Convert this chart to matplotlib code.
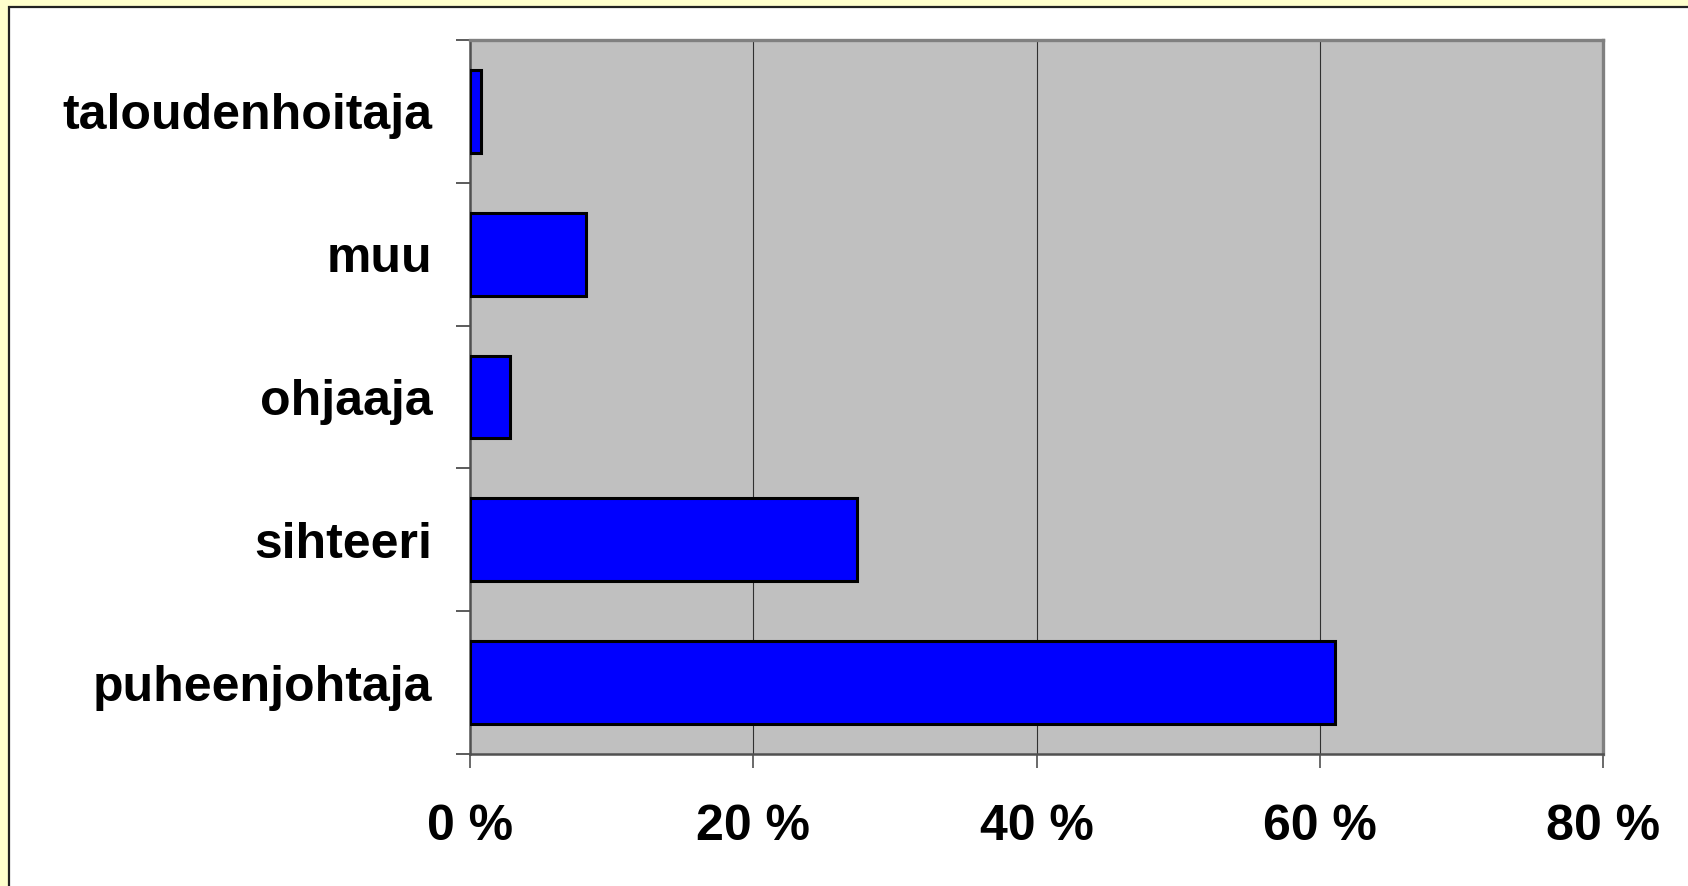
import matplotlib
matplotlib.use('Agg')
import matplotlib.pyplot as plt
from matplotlib.patches import Rectangle
from matplotlib.ticker import FixedLocator

# Tehtävät (alhaalta ylös) ja osuudet prosentteina
tehtavat = ['puheenjohtaja', 'sihteeri', 'ohjaaja', 'muu', 'taloudenhoitaja']
osuudet = [61.1, 27.3, 2.8, 8.2, 0.8]
x_tikit = [0, 20, 40, 60, 80]
x_nimet = ['0 %', '20 %', '40 %', '60 %', '80 %']

plt.rcParams['font.family'] = ['Liberation Sans', 'DejaVu Sans']

fig = plt.figure(figsize=(16.88, 8.86), dpi=100)
fig.patch.set_facecolor('#FFFFCC')

# Valkoinen paneeli tumman reunan kanssa (oikea ja ala reuna kuvan ulkopuolella)
paneeli = Rectangle((9 / 1688, -0.05), 1.1, 1.05 - 7 / 886, transform=fig.transFigure,
                    facecolor='white', edgecolor='#222222', linewidth=1.6, zorder=-10)
fig.add_artist(paneeli)

ax = fig.add_axes([470 / 1688, 132 / 886, 1133 / 1688, 714 / 886])
ax.set_facecolor('#C0C0C0')

y = range(len(tehtavat))
ax.barh(y, osuudet, height=0.58, color='#0000FF', edgecolor='black', linewidth=2.2, zorder=3)

ax.set_xlim(0, 80)
ax.set_ylim(-0.5, len(tehtavat) - 0.5)

# Pystysuuntaiset apuviivat
for g in x_tikit[1:-1]:
    ax.axvline(g, color='#303030', linewidth=0.8, zorder=1)

ax.set_xticks(x_tikit)
ax.set_xticklabels(x_nimet, fontsize=36, fontweight='bold')
ax.set_yticks(list(y))
ax.set_yticklabels(tehtavat, fontsize=36, fontweight='bold')
ax.tick_params(axis='y', which='major', length=0, pad=27)
ax.yaxis.set_minor_locator(FixedLocator([i - 0.5 for i in range(len(tehtavat) + 1)]))
ax.tick_params(axis='y', which='minor', length=10, width=1.2, color='#404040')
ax.tick_params(axis='x', which='major', length=10, width=1.2, color='#505050', pad=26)

for s in ['left', 'bottom']:
    ax.spines[s].set_color('#505050')
    ax.spines[s].set_linewidth(1.8)
for s in ['top', 'right']:
    ax.spines[s].set_color('#808080')
    ax.spines[s].set_linewidth(2.4)

fig.savefig('out.png', dpi=100, facecolor=fig.get_facecolor())
plt.close(fig)
